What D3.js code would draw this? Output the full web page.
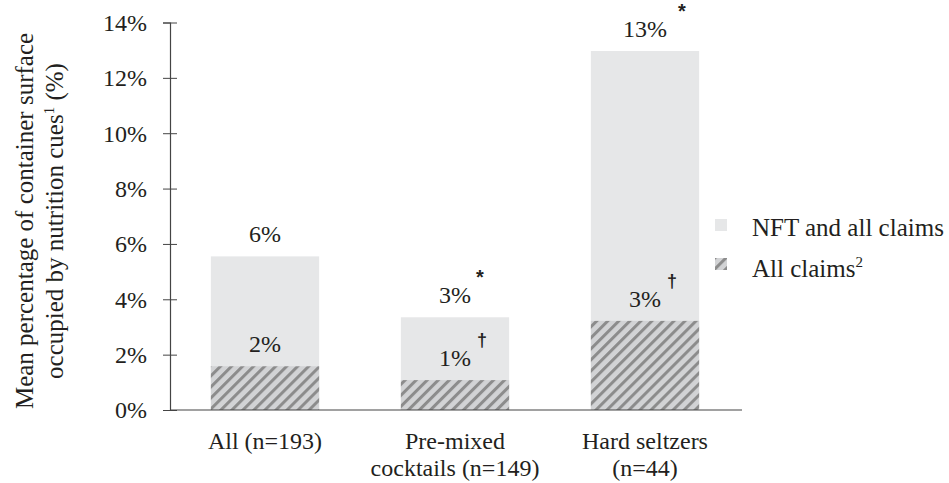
<!DOCTYPE html>
<html>
<head>
<meta charset="utf-8">
<script src="https://cdn.jsdelivr.net/npm/d3@7"></script>
<style>
	body { margin: 0; background: #fff; }
</style>
</head>
<body>
<svg id="plot" width="949" height="483"></svg>
<script>
const CATEGORIES = ['All', 'Pre-mixed', 'Hard seltzers'];
const CATEGORY_LINES = [['All (n=193)'], ['Pre-mixed', 'cocktails (n=149)'], ['Hard seltzers', '(n=44)']];
const NFT_ALL_CLAIMS = [5.55, 3.35, 12.97];
const ALL_CLAIMS = [1.58, 1.08, 3.22];
const NFT_LABELS = ['6%', '3%', '13%'];
const CLAIM_LABELS = ['2%', '1%', '3%'];
const NFT_MARKS = ['', '*', '*'];
const CLAIM_MARKS = ['', '†', '†'];
const Y_TICKS = [0, 2, 4, 6, 8, 10, 12, 14];

const SERIF = '"Liberation Serif"';
const INK = '#231f20';

const svg = d3.select('#plot');

// helper: text with the serif font
function addText(sel, size) {
	return sel.append('text')
		.style('font-family', SERIF)
		.style('font-size', size + 'px')
		.style('fill', INK);
}

/* hatch pattern for the claims part */
const defs = svg.append('defs');
const pat = defs.append('pattern')
	.attr('id', 'hatch')
	.attr('patternUnits', 'userSpaceOnUse')
	.attr('width', 7.8)
	.attr('height', 7.8)
	.attr('patternTransform', 'rotate(45)');
pat.append('rect')
	.attr('width', 7.8).attr('height', 7.8)
	.style('fill', '#d2d3d5');
pat.append('rect')
	.attr('x', 0).attr('y', 0)
	.attr('width', 3).attr('height', 7.8)
	.style('fill', '#8c8c8c');

const x = d3.scaleBand()
	.domain(CATEGORIES)
	.range([170, 740])
	.paddingInner(0.43)
	.paddingOuter(0.215);
const y = d3.scaleLinear()
	.domain([0, 14])
	.range([410, 22.5]);

/* bars: total first, claims on top of it */
svg.selectAll('rect.total')
	.data(CATEGORIES)
	.enter().append('rect')
		.attr('class', 'total')
		.attr('x', d => x(d))
		.attr('y', (d, i) => y(NFT_ALL_CLAIMS[i]))
		.attr('width', x.bandwidth())
		.attr('height', (d, i) => y(0) - y(NFT_ALL_CLAIMS[i]))
		.style('fill', '#e6e7e8');
svg.selectAll('rect.claims')
	.data(CATEGORIES)
	.enter().append('rect')
		.attr('class', 'claims')
		.attr('x', d => x(d))
		.attr('y', (d, i) => y(ALL_CLAIMS[i]))
		.attr('width', x.bandwidth())
		.attr('height', (d, i) => y(0) - y(ALL_CLAIMS[i]))
		.style('fill', 'url(#hatch)');

/* y axis */
const yAxis = svg.append('g')
	.attr('transform', 'translate(170,0)')
	.call(d3.axisLeft(y).tickValues(Y_TICKS).tickFormat(d => d + '%').tickSize(7).tickPadding(16));
yAxis.select('.domain').attr('stroke', '#444').attr('stroke-width', 1.2);
yAxis.selectAll('.tick line').attr('stroke', '#444').attr('x2', 7).attr('x1', -7);
yAxis.selectAll('.tick text')
	.style('font-family', SERIF)
	.style('font-size', '24px')
	.style('fill', INK)
	.attr('dy', '0.33em');

/* x baseline */
svg.append('line')
	.attr('x1', 170).attr('x2', 742)
	.attr('y1', y(0)).attr('y2', y(0))
	.attr('stroke', '#444').attr('stroke-width', 1.2);

/* category labels */
CATEGORIES.forEach((c, i) => {
	const t = addText(svg, 24).attr('text-anchor', 'middle');
	CATEGORY_LINES[i].forEach((line, j) => {
		t.append('tspan')
			.attr('x', x(c) + x.bandwidth() / 2)
			.attr('y', 449 + j * 27)
			.text(line);
	});
});

/* value labels */
const cx = d => x(d) + x.bandwidth() / 2;
CATEGORIES.forEach((c, i) => {
	addText(svg, 24)
		.attr('x', cx(c))
		.attr('y', y(NFT_ALL_CLAIMS[i]) - 14)
		.attr('text-anchor', 'middle')
		.text(NFT_LABELS[i]);
	addText(svg, 24)
		.attr('x', cx(c))
		.attr('y', y(ALL_CLAIMS[i]) - 14)
		.attr('text-anchor', 'middle')
		.text(CLAIM_LABELS[i]);

	/* significance marks */
	svg.append('text')
		.attr('x', cx(c) + (NFT_LABELS[i].length > 2 ? 37 : 25))
		.attr('y', y(NFT_ALL_CLAIMS[i]) - 33)
		.attr('text-anchor', 'middle')
		.style('font-family', '"Liberation Sans"')
		.style('font-size', '20px')
		.style('font-weight', 'bold')
		.style('fill', INK)
		.text(NFT_MARKS[i]);
	svg.append('text')
		.attr('x', cx(c) + 27)
		.attr('y', y(ALL_CLAIMS[i]) - 34)
		.attr('text-anchor', 'middle')
		.style('font-family', '"Liberation Sans"')
		.style('font-size', '18px')
		.style('font-weight', 'bold')
		.style('fill', INK)
		.text(CLAIM_MARKS[i]);
});

/* y axis title */
const title = addText(svg, 25)
	.attr('transform', 'translate(0,221) rotate(-90)')
	.attr('text-anchor', 'middle');
title.append('tspan').attr('x', 0).attr('y', 33).text('Mean percentage of container surface');
const t2 = title.append('tspan').attr('x', 0).attr('y', 63);
t2.text('occupied by nutrition cues');
t2.append('tspan').attr('dy', -9).style('font-size', '15px').text('1');
t2.append('tspan').attr('dy', 9).text(' (%)');

/* legend */
const legend = svg.append('g');
legend.append('rect')
	.attr('x', 715).attr('y', 219).attr('width', 12).attr('height', 12)
	.style('fill', '#e6e7e8');
legend.append('rect')
	.attr('x', 715).attr('y', 258).attr('width', 12).attr('height', 12)
	.style('fill', 'url(#hatch)');
addText(legend, 25)
	.attr('x', 752).attr('y', 236)
	.text('NFT and all claims');
const lt = addText(legend, 25)
	.attr('x', 752).attr('y', 277)
	.text('All claims');
lt.append('tspan').attr('dy', -10).style('font-size', '15px').text('2');
</script>
</body>
</html>
